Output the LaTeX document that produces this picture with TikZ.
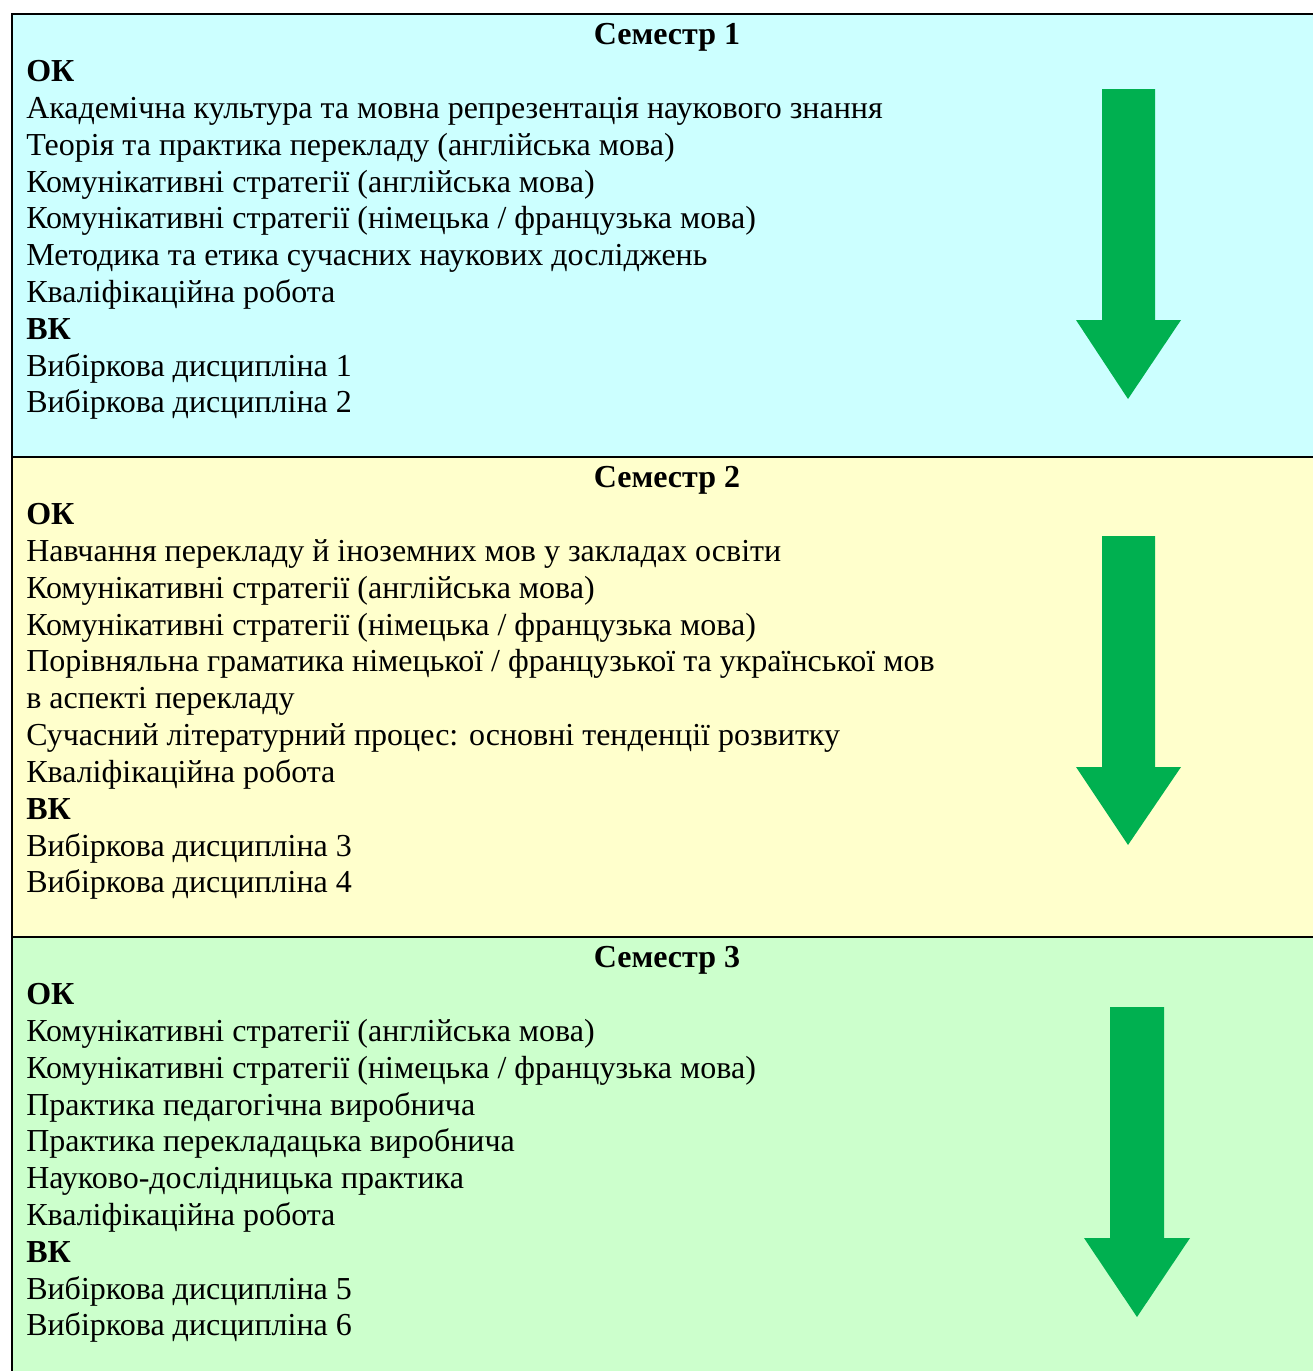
\documentclass[tikz,border=0pt]{standalone}
\usepackage{fontspec}
\setmainfont{Liberation Serif}
\definecolor{semA}{HTML}{CCFFFF}
\definecolor{semB}{HTML}{FFFFCC}
\definecolor{semC}{HTML}{CCFFCC}
\definecolor{arrowgreen}{HTML}{00B050}
\tikzset{
  band/.style={draw=black, line width=1.5pt},
  txt/.style={anchor=base west, inner sep=0pt, font=\fontsize{24pt}{27.6pt}\selectfont},
  ttl/.style={anchor=base, inner sep=0pt, font=\fontsize{24pt}{27.6pt}\selectfont\bfseries},
  hdr/.style={txt, font=\fontsize{24pt}{27.6pt}\selectfont\bfseries},
  bigarrow/.style={fill=arrowgreen, draw=none}
}
\begin{document}
\begin{tikzpicture}[x=0.75pt,y=-0.75pt]
\clip (0,0) rectangle (1313,1371);
\fill[white] (0,0) rectangle (1313,1371);
% bands
\filldraw[band, fill=semA] (11.5,14) rectangle (1330,457);
\filldraw[band, fill=semB] (11.5,457) rectangle (1330,937);
\filldraw[band, fill=semC] (11.5,937) rectangle (1330,1400);
% arrows
\path[bigarrow] (1102,89) -- (1155,89) -- (1155,320) -- (1181,320) -- (1128,399) -- (1076,320) -- (1102,320) -- cycle;
\path[bigarrow] (1102,536) -- (1155,536) -- (1155,767) -- (1181,767) -- (1128,845) -- (1076,767) -- (1102,767) -- cycle;
\path[bigarrow] (1110,1007) -- (1164,1007) -- (1164,1238) -- (1190,1238) -- (1137,1317) -- (1084,1238) -- (1110,1238) -- cycle;
% semester 1
\node[ttl] (t1) at (667,44) {Семестр 1};
\node[hdr] (ok1) at (26,81) {ОК};
\node[txt] (a1) at (26,118) {Академічна культура та мовна репрезентація наукового знання};
\node[txt] (a2) at (26,155) {Теорія та практика перекладу (англійська мова)};
\node[txt] (a3) at (26,192) {Комунікативні стратегії (англійська мова)};
\node[txt] (a4) at (26,228) {Комунікативні стратегії (німецька / французька мова)};
\node[txt] (a5) at (26,265) {Методика та етика сучасних наукових досліджень};
\node[txt] (a6) at (26,302) {Кваліфікаційна робота};
\node[hdr] (vk1) at (26,339) {ВК};
\node[txt] (a7) at (26,376) {Вибіркова дисципліна 1};
\node[txt] (a8) at (26,412) {Вибіркова дисципліна 2};
% semester 2
\node[ttl] (t2) at (667,487) {Семестр 2};
\node[hdr] (ok2) at (26,524) {ОК};
\node[txt] (b1) at (26,561) {Навчання перекладу й іноземних мов у закладах освіти};
\node[txt] (b2) at (26,598) {Комунікативні стратегії (англійська мова)};
\node[txt] (b3) at (26,635) {Комунікативні стратегії (німецька / французька мова)};
\node[txt] (b4) at (26,671) {Порівняльна граматика німецької / французької та української мов};
\node[txt] (b5) at (26,708) {в аспекті перекладу};
\node[txt] (b6) at (26,745) {Сучасний літературний процес: основні тенденції розвитку};
\node[txt] (b7) at (26,782) {Кваліфікаційна робота};
\node[hdr] (vk2) at (26,819) {ВК};
\node[txt] (b8) at (26,856) {Вибіркова дисципліна 3};
\node[txt] (b9) at (26,892) {Вибіркова дисципліна 4};
% semester 3
\node[ttl] (t3) at (667,967) {Семестр 3};
\node[hdr] (ok3) at (26,1004) {ОК};
\node[txt] (c1) at (26,1041) {Комунікативні стратегії (англійська мова)};
\node[txt] (c2) at (26,1078) {Комунікативні стратегії (німецька / французька мова)};
\node[txt] (c3) at (26,1115) {Практика педагогічна виробнича};
\node[txt] (c4) at (26,1151) {Практика перекладацька виробнича};
\node[txt] (c5) at (26,1188) {Науково-дослідницька практика};
\node[txt] (c6) at (26,1225) {Кваліфікаційна робота};
\node[hdr] (vk3) at (26,1262) {ВК};
\node[txt] (c7) at (26,1299) {Вибіркова дисципліна 5};
\node[txt] (c8) at (26,1335) {Вибіркова дисципліна 6};
\end{tikzpicture}
\end{document}
